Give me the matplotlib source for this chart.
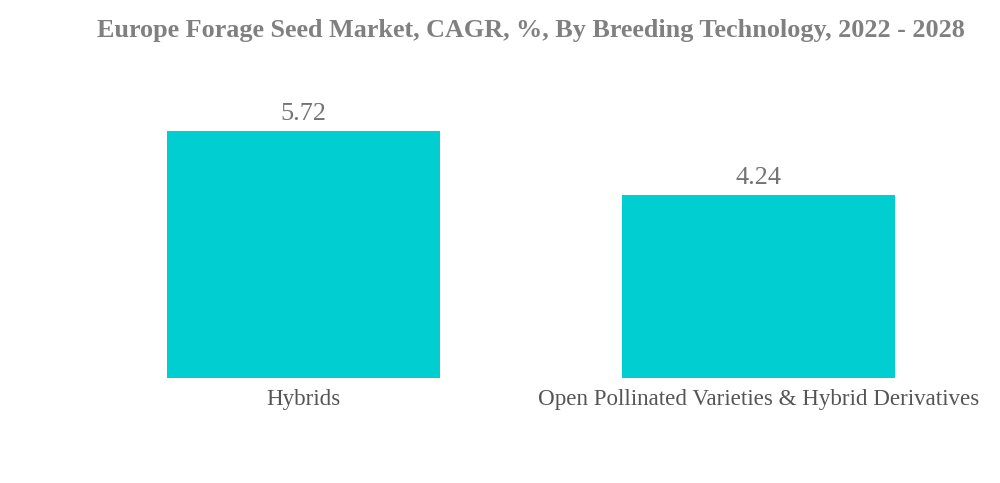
import matplotlib.pyplot as plt

# data
categorias = ["Hybrids", "Open Pollinated Varieties & Hybrid Derivatives"]
valores = [5.72, 4.24]
etiquetas = ["5.72", "4.24"]

plt.rcParams['font.family'] = ['Liberation Serif', 'DejaVu Serif']

fig = plt.figure(figsize=(10, 4.83), dpi=100)
ax = fig.add_axes([0.0765, 0.2174, 0.909, 0.613])

x = range(len(categorias))
barras = ax.bar(x, valores, width=0.6, color='#00CED1')

for b, txt in zip(barras, etiquetas):
    ax.text(b.get_x() + b.get_width() / 2, b.get_height() + 0.15, txt,
            ha='center', va='bottom', fontsize=18.9, color='#737373')

ax.set_xlim(-0.5, 1.5)
ax.set_ylim(0, 5.72 * 1.2)
ax.set_xticks(list(x))
ax.set_xticklabels(categorias, fontsize=16.6, color='#555555')
ax.tick_params(axis='x', length=0, pad=8)
ax.set_yticks([])
for s in ax.spines.values():
    s.set_visible(False)

fig.text(0.531, 0.936, "Europe Forage Seed Market, CAGR, %, By Breeding Technology, 2022 - 2028",
         ha='center', va='center', fontsize=18.8, fontweight='bold', color='#808080')

fig.savefig("out.png", dpi=100)
